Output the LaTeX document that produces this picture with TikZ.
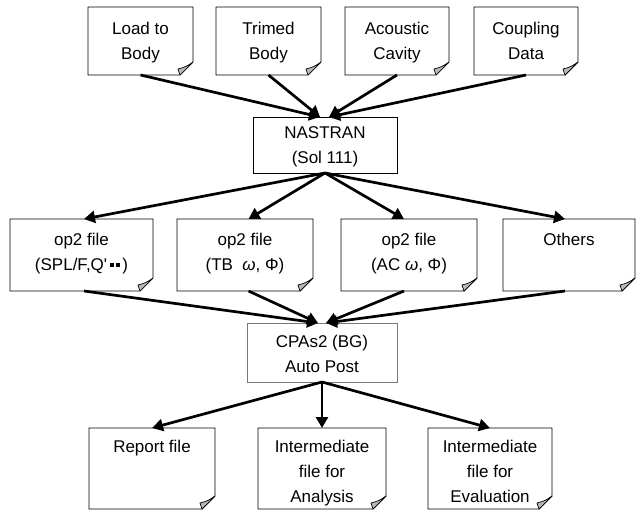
\documentclass[tikz,border=0pt]{standalone}
\usepackage{fontspec}
\setmainfont{Liberation Sans}
\usetikzlibrary{arrows.meta}
\definecolor{flapgray}{RGB}{185,185,185}
\definecolor{cpaborder}{RGB}{120,120,120}
\newcommand\bxt[4]{\parbox[c][#2][t]{#1}{\centering\vspace*{#3}\strut #4\par}}
\newcommand\sq{\rule[3.5pt]{3.5pt}{4pt}}
\begin{document}
\begin{tikzpicture}[x=1pt,y=1pt,
  bx/.style={inner sep=0pt, outer sep=0pt, anchor=north west, font=\fontsize{17}{25}\selectfont},
  arr/.style={line width=2.7pt, -{Triangle[length=11pt,width=12pt]}},
  outline/.style={line width=0.8pt, line join=miter},
  flapstyle/.style={line width=0.7pt, fill=flapgray}]
\useasboundingbox (0,0) rectangle (640,-511);
% top row
\node[bx] (load) at (88,-7)  {\bxt{105pt}{68pt}{10.5pt}{Load to\\Body}};
\node[bx] (trim) at (216,-7) {\bxt{105pt}{68pt}{10.5pt}{Trimed\\Body}};
\node[bx] (acou) at (345,-7) {\bxt{104pt}{68pt}{10.5pt}{Acoustic\\Cavity}};
\node[bx] (coup) at (474,-7) {\bxt{104pt}{68pt}{10.5pt}{Coupling\\Data}};
% NASTRAN
\node[bx] (nas) at (253,-117) {\bxt{144pt}{56pt}{3.5pt}{NASTRAN\\(Sol 111)}};
% middle row
\node[bx] (op1) at (10,-219)  {\bxt{143pt}{72pt}{8.5pt}{op2 file\\(SPL/F,Q\textquotesingle\,\sq\hspace{2.5pt}\sq\,)}};
\node[bx] (op2) at (177,-219) {\bxt{136pt}{72pt}{8.5pt}{op2 file\\(TB\ \ {\itshape ω}, Φ)}};
\node[bx] (op3) at (341,-219) {\bxt{136pt}{72pt}{8.5pt}{op2 file\\(AC\ {\itshape ω}, Φ)}};
\node[bx] (oth) at (503,-219) {\bxt{132pt}{72pt}{8.5pt}{Others}};
% CPAs2
\node[bx] (cpa) at (247,-323) {\bxt{150pt}{59pt}{6.5pt}{CPAs2 (BG)\\Auto Post}};
% bottom row
\node[bx] (rep) at (89,-428)  {\bxt{126pt}{81pt}{6.5pt}{Report file}};
\node[bx] (ana) at (258,-428) {\bxt{128pt}{81pt}{6.5pt}{Intermediate\\file for\\Analysis}};
\node[bx] (eva) at (428,-428) {\bxt{124pt}{81pt}{6.5pt}{Intermediate\\file for\\Evaluation}};
% note outlines with folded corner
\foreach \n in {load,trim,acou,coup,op1,op2,op3,oth,rep,ana,eva} {
  \draw[outline] (\n.north west) -- (\n.north east) -- ([yshift=13pt]\n.south east)
     -- ([xshift=-13pt]\n.south east) -- (\n.south west) -- cycle;
  \filldraw[flapstyle] ([yshift=13pt]\n.south east) to[bend left=12] ([xshift=-15pt,yshift=6pt]\n.south east)
     -- ([xshift=-13pt]\n.south east) -- cycle;
}
\draw[outline] (nas.north west) rectangle (nas.south east);
\draw[outline, draw=cpaborder] (cpa.north west) rectangle (cpa.south east);
% connectors
\draw[arr] (load.south) -- ([xshift=-5pt]nas.north);
\draw[arr] (trim.south) -- ([xshift=-5pt]nas.north);
\draw[arr] (acou.south) -- ([xshift=4pt]nas.north);
\draw[arr] (coup.south) -- ([xshift=4pt]nas.north);
\draw[arr] (nas.south) -- ([xshift=2.5pt]op1.north);
\draw[arr] (nas.south) -- ([xshift=3.5pt]op2.north);
\draw[arr] (nas.south) -- ([xshift=-5pt]op3.north);
\draw[arr] (nas.south) -- ([xshift=-4pt]oth.north);
\draw[arr] ([xshift=2.5pt]op1.south) -- ([xshift=-4pt]cpa.north);
\draw[arr] ([xshift=3.5pt]op2.south) -- ([xshift=-4pt]cpa.north);
\draw[arr] ([xshift=-5pt]op3.south) -- ([xshift=4pt]cpa.north);
\draw[arr] ([xshift=-4pt]oth.south) -- ([xshift=4pt]cpa.north);
\draw[arr] (cpa.south) -- (rep.north);
\draw[arr] (cpa.south) -- (ana.north);
\draw[arr] (cpa.south) -- (eva.north);
\end{tikzpicture}
\end{document}
